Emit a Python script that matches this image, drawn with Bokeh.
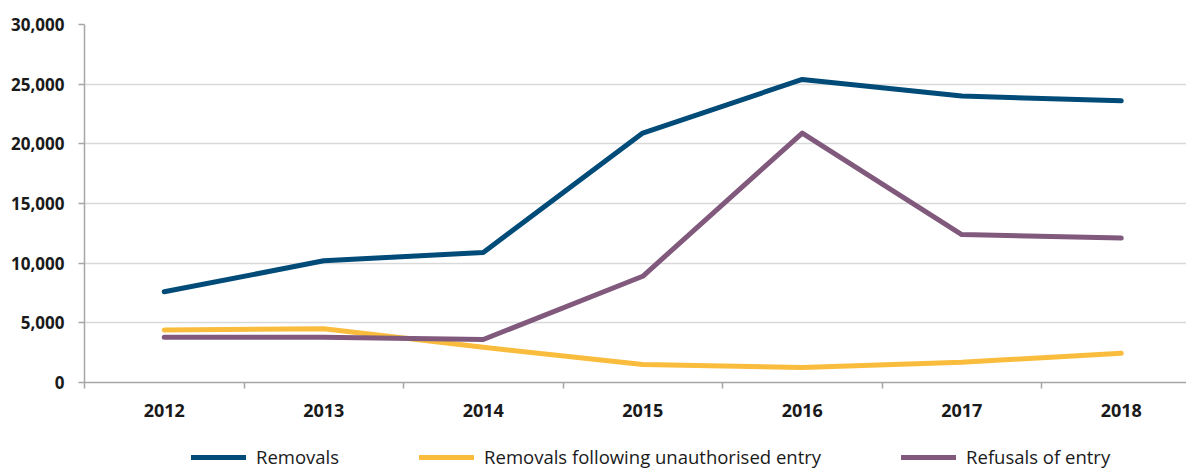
from bokeh.plotting import figure
from bokeh.layouts import column
from bokeh.models import Range1d, FixedTicker, NumeralTickFormatter, Legend, LegendItem
from bokeh.embed import file_html
from bokeh.resources import INLINE

years = [2012, 2013, 2014, 2015, 2016, 2017, 2018]
removals = [7600, 10200, 10900, 20900, 25400, 24000, 23600]
removals_unauth = [4400, 4500, 2950, 1500, 1250, 1700, 2450]
refusals = [3800, 3800, 3600, 8900, 20900, 12400, 12100]
y_ticks = [0, 5000, 10000, 15000, 20000, 25000, 30000]
series_names = ["Removals", "Removals following unauthorised entry", "Refusals of entry"]
colors = ["#004B78", "#F9BC3D", "#80597D"]
all_series = [removals, removals_unauth, refusals]

FONT = "Open Sans"
W = 1186

p = figure(width=W, height=432, output_backend="svg", toolbar_location=None,
           x_range=Range1d(2011.5, 2011.5 + 1102 / 159.5), y_range=Range1d(0, 30000),
           min_border_left=84, min_border_top=24, min_border_right=0, min_border_bottom=50)
p.outline_line_color = None

for vals, col in zip(all_series, colors):
    p.line(years, vals, line_color=col, line_width=5, line_cap="round", line_join="round")

# x axis
xa = p.xaxis[0]
xa.ticker = FixedTicker(ticks=years, minor_ticks=[y - 0.5 for y in years] + [years[-1] + 0.5])
xa.major_tick_out = 0
xa.major_tick_in = 0
xa.minor_tick_out = 6
xa.minor_tick_in = 0
xa.minor_tick_line_color = "#a6a6a6"
xa.minor_tick_line_width = 1.5
xa.axis_line_color = "#a6a6a6"
xa.axis_line_width = 1.5
xa.major_label_text_font = FONT
xa.major_label_text_font_style = "bold"
xa.major_label_text_font_size = "18px"
xa.major_label_text_color = "#1a1a1a"
xa.major_label_standoff = 15

ya = p.yaxis[0]
ya.ticker = FixedTicker(ticks=y_ticks)
ya.formatter = NumeralTickFormatter(format="0,0")
ya.major_tick_out = 6
ya.major_tick_in = 0
ya.minor_tick_out = 0
ya.minor_tick_in = 0
ya.major_tick_line_color = "#a6a6a6"
ya.major_tick_line_width = 1.5
ya.axis_line_color = "#a6a6a6"
ya.axis_line_width = 1.5
ya.major_label_text_font = FONT
ya.major_label_text_font_style = "bold"
ya.major_label_text_font_size = "17px"
ya.major_label_text_color = "#1a1a1a"
ya.major_label_standoff = 14

p.xgrid.grid_line_color = None
p.ygrid.grid_line_color = "#d9d9d9"
p.ygrid.grid_line_width = 1.5
p.ygrid.ticker = FixedTicker(ticks=y_ticks)

# legend strip (lines kept out of view; only legend glyphs show)
lg = figure(width=W, height=36, output_backend="svg", toolbar_location=None,
            x_range=Range1d(0, 1), y_range=Range1d(0, 1),
            x_axis_location=None, y_axis_location=None,
            min_border_left=0, min_border_top=0, min_border_right=0, min_border_bottom=0)
lg.grid.visible = False
lg.outline_line_color = None
items = []
for name, vals, col in zip(series_names, all_series, colors):
    r = lg.line(years, vals, line_color=col, line_width=5, line_cap="round")
    items.append(LegendItem(label=name, renderers=[r]))

legend = Legend(items=items, orientation="horizontal", location=(107, -1), spacing=80,
                glyph_width=55, label_standoff=10, border_line_color=None,
                background_fill_alpha=0, label_text_font=FONT, label_text_font_size="18.5px",
                label_text_color="#1a1a1a", padding=0, margin=0)
lg.add_layout(legend, "center")

layout = column(p, lg, spacing=0)
open("out.html", "w").write(file_html(layout, INLINE))
